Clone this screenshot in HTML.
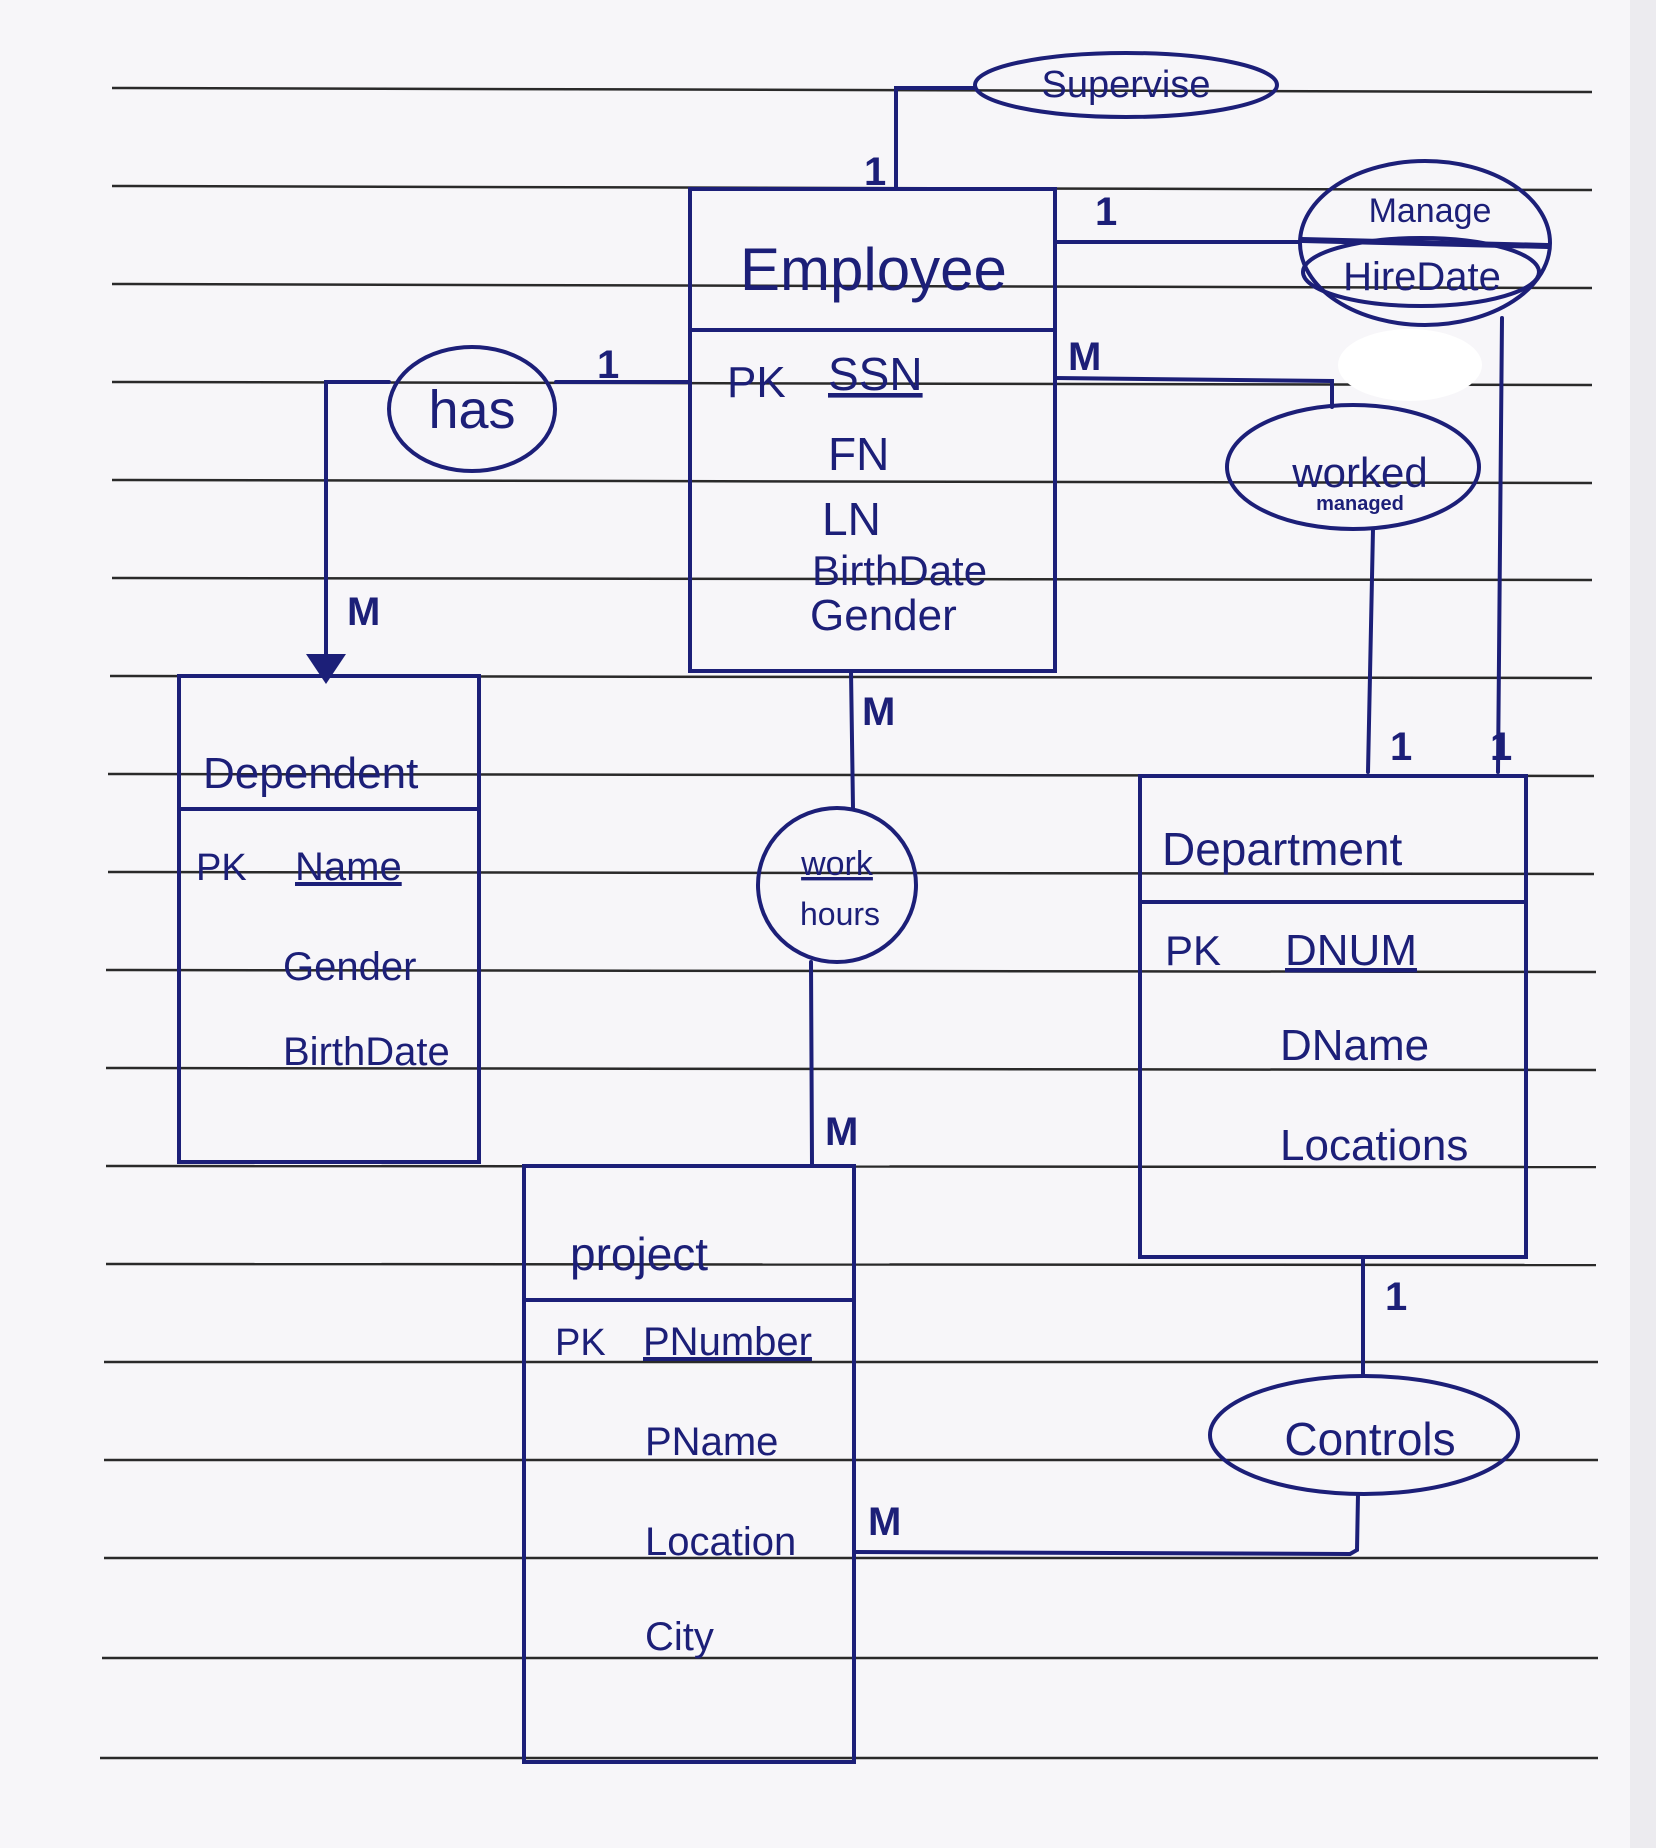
<!DOCTYPE html>
<html><head><meta charset="utf-8"><style>
html,body{margin:0;padding:0;background:#f7f6f9;}
svg{display:block}
text{font-family:"Liberation Sans",sans-serif;fill:#1c1f78;}
</style></head><body>
<svg width="1656" height="1848" viewBox="0 0 1656 1848" xmlns="http://www.w3.org/2000/svg">
<rect width="1656" height="1848" fill="#f7f6f9"/>
<rect x="1630" y="0" width="26" height="1848" fill="#ecebef"/>
<g stroke="#2a2a2a" stroke-width="2.5">
<line x1="112" y1="88" x2="1592" y2="92"/>
<line x1="112" y1="186" x2="1592" y2="190"/>
<line x1="112" y1="284" x2="1592" y2="288"/>
<line x1="112" y1="382" x2="1592" y2="385"/>
<line x1="112" y1="480" x2="1592" y2="483"/>
<line x1="112" y1="578" x2="1592" y2="580"/>
<line x1="110" y1="676" x2="1592" y2="678"/>
<line x1="108" y1="774" x2="1594" y2="776"/>
<line x1="108" y1="872" x2="1594" y2="874"/>
<line x1="106" y1="970" x2="1596" y2="972"/>
<line x1="106" y1="1068" x2="1596" y2="1070"/>
<line x1="106" y1="1166" x2="1596" y2="1167"/>
<line x1="106" y1="1264" x2="1596" y2="1265"/>
<line x1="104" y1="1362" x2="1598" y2="1362"/>
<line x1="104" y1="1460" x2="1598" y2="1460"/>
<line x1="104" y1="1558" x2="1598" y2="1558"/>
<line x1="102" y1="1658" x2="1598" y2="1658"/>
<line x1="100" y1="1758" x2="1598" y2="1758"/>
</g>
<g stroke="#1c1f78" stroke-width="4" fill="none" stroke-linecap="round">
<!-- Employee -->
<rect x="690" y="189" width="365" height="482"/>
<line x1="690" y1="330" x2="1055" y2="330"/>
<!-- Dependent -->
<rect x="179" y="676" width="300" height="486"/>
<line x1="179" y1="809" x2="479" y2="809"/>
<!-- Project -->
<rect x="524" y="1166" width="330" height="596"/>
<line x1="524" y1="1300" x2="854" y2="1300"/>
<!-- Department -->
<rect x="1140" y="776" width="386" height="481"/>
<line x1="1140" y1="902" x2="1526" y2="902"/>
<!-- ellipses -->
<ellipse cx="1126" cy="85" rx="151" ry="32"/>
<ellipse cx="472" cy="409" rx="83" ry="62"/>
<ellipse cx="1425" cy="243" rx="125" ry="82"/>
<ellipse cx="1421" cy="272" rx="118" ry="34"/>
<ellipse cx="1353" cy="467" rx="126" ry="62"/>
<ellipse cx="837" cy="885" rx="79" ry="77"/>
<ellipse cx="1364" cy="1435" rx="154" ry="59"/>
<!-- connectors -->
<polyline points="896,189 896,88 975,88"/>
<line x1="556" y1="382" x2="690" y2="382"/>
<polyline points="389,382 326,382 326,668"/>
<line x1="1055" y1="242" x2="1300" y2="242"/>
<line x1="1302" y1="240" x2="1548" y2="246" stroke-width="6"/>
<line x1="1502" y1="318" x2="1498" y2="772"/>
<polyline points="1055,378 1332,381 1332,407"/>
<line x1="1373" y1="529" x2="1368" y2="772"/>
<line x1="851" y1="671" x2="853" y2="808"/>
<line x1="811" y1="962" x2="812" y2="1164"/>
<line x1="1363" y1="1258" x2="1363" y2="1376"/>
<polyline points="1358,1494 1357,1550 1350,1554 854,1552"/>
</g>
<polygon points="306,654 346,654 326,684" fill="#1c1f78"/>
<!-- white blob -->
<ellipse cx="1410" cy="365" rx="72" ry="36" fill="#ffffff"/>
<!-- cardinalities -->
<g font-size="40" font-weight="bold">
<text x="864" y="185">1</text>
<text x="597" y="378">1</text>
<text x="1095" y="225">1</text>
<text x="1068" y="370">M</text>
<text x="347" y="625">M</text>
<text x="862" y="725">M</text>
<text x="825" y="1145">M</text>
<text x="1390" y="760">1</text>
<text x="1490" y="760">1</text>
<text x="1385" y="1310">1</text>
<text x="868" y="1535">M</text>
</g>
<!-- labels -->
<text x="1126" y="97" font-size="38" text-anchor="middle">Supervise</text>
<text x="472" y="428" font-size="54" text-anchor="middle">has</text>
<text x="1430" y="222" font-size="34" text-anchor="middle">Manage</text>
<text x="1422" y="290" font-size="40" text-anchor="middle">HireDate</text>
<text x="1360" y="487" font-size="42" text-anchor="middle">worked</text>
<text x="1360" y="510" font-size="20" text-anchor="middle" font-weight="bold">managed</text>
<text x="837" y="875" font-size="34" text-anchor="middle" text-decoration="underline">work</text>
<text x="840" y="925" font-size="32" text-anchor="middle">hours</text>
<text x="1370" y="1455" font-size="46" text-anchor="middle">Controls</text>
<text x="740" y="290" font-size="60">Employee</text>
<text x="727" y="397" font-size="44">PK</text>
<text x="828" y="390" font-size="46" text-decoration="underline">SSN</text>
<text x="828" y="470" font-size="46">FN</text>
<text x="822" y="535" font-size="46">LN</text>
<text x="812" y="585" font-size="42">BirthDate</text>
<text x="810" y="630" font-size="44">Gender</text>
<text x="203" y="788" font-size="44">Dependent</text>
<text x="196" y="880" font-size="38">PK</text>
<text x="295" y="880" font-size="40" text-decoration="underline">Name</text>
<text x="283" y="980" font-size="40">Gender</text>
<text x="283" y="1065" font-size="40">BirthDate</text>
<text x="570" y="1270" font-size="46">project</text>
<text x="555" y="1355" font-size="38">PK</text>
<text x="643" y="1355" font-size="40" text-decoration="underline">PNumber</text>
<text x="645" y="1455" font-size="40">PName</text>
<text x="645" y="1555" font-size="40">Location</text>
<text x="645" y="1650" font-size="40">City</text>
<text x="1162" y="865" font-size="46">Department</text>
<text x="1165" y="965" font-size="42">PK</text>
<text x="1285" y="965" font-size="44" text-decoration="underline">DNUM</text>
<text x="1280" y="1060" font-size="44">DName</text>
<text x="1280" y="1160" font-size="44">Locations</text>
</svg>
</body></html>
